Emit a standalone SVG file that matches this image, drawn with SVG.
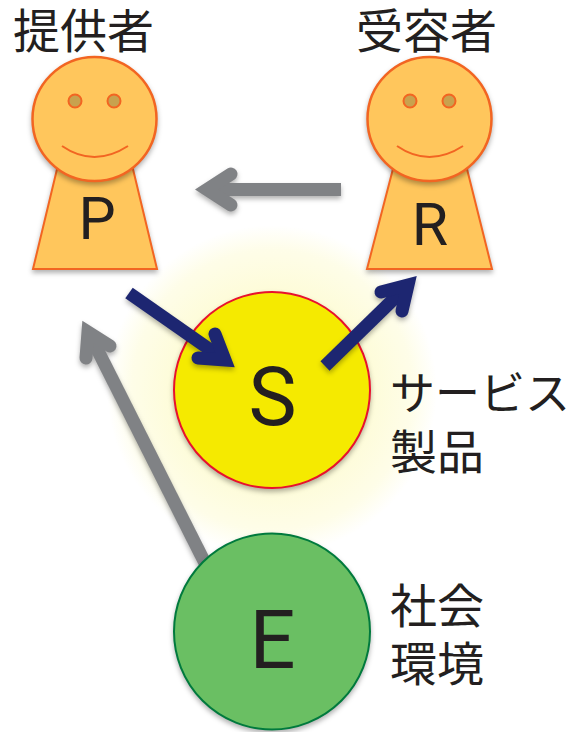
<svg xmlns="http://www.w3.org/2000/svg" width="572" height="732" viewBox="0 0 572 732">
<defs>
<radialGradient id="glow"><stop offset="0.6" stop-color="#f5ea00" stop-opacity="0.15"/><stop offset="0.85" stop-color="#f5ea00" stop-opacity="0.09"/><stop offset="1" stop-color="#f5ea00" stop-opacity="0"/></radialGradient>
<filter id="sh" filterUnits="userSpaceOnUse" x="0" y="0" width="572" height="732" color-interpolation-filters="sRGB"><feDropShadow dx="0" dy="3" stdDeviation="2.500" flood-color="#000" flood-opacity="0.3"/></filter>
</defs>
<style>
.t{font-family:"Noto Sans CJK JP","Liberation Sans",sans-serif;font-size:47px;fill:#231f20}
.k{font-size:45px}
.l{font-family:Roboto,"Liberation Sans",sans-serif;fill:#231f20;text-anchor:middle}
.body{fill:#ffc65c;stroke:#f26522;stroke-width:2;filter:url(#sh)}
.head{fill:#ffc65c;stroke:#f26522;stroke-width:2.500;filter:url(#sh)}
.eye{fill:#c8a24e;stroke:#f26522;stroke-width:2}
.smile{fill:none;stroke:#f26522;stroke-width:2}
.nv,.gr{filter:url(#sh)}
.nv path,.gr path{stroke-width:13;fill:none;stroke-linejoin:miter;stroke-miterlimit:10}
.nv path{stroke:#1d2671}
.gr path{stroke:#808285}
.b{stroke-linecap:round}
</style>
<g id="glow-s"><circle cx="272" cy="390" r="165" fill="url(#glow)"/></g>
<g id="node-p">
<path class="body" d="M58 165L33 269H157L132 165Z"/>
<circle class="head" cx="94.500" cy="119" r="62"/>
<circle class="eye" cx="75" cy="101" r="6.500"/><circle class="eye" cx="114" cy="101" r="6.500"/>
<path class="smile" d="M62 146Q94 168 128 146"/>
<text class="l" x="97" y="239" font-size="59">P</text>
<text class="t" x="13" y="48">提供者</text>
</g>
<g id="node-r">
<path class="body" d="M394 165L367 269H492L466 165Z"/>
<circle class="head" cx="429.500" cy="119" r="62"/>
<circle class="eye" cx="410" cy="101" r="6.500"/><circle class="eye" cx="449" cy="101" r="6.500"/>
<path class="smile" d="M397 146Q429 168 463 146"/>
<text class="l" x="430" y="245" font-size="59">R</text>
<text class="t" x="356" y="48">受容者</text>
</g>
<g id="node-s">
<circle cx="272" cy="390" r="98" fill="#f5ea00" stroke="#e8112d" stroke-width="2" filter="url(#sh)"/>
<text class="l" x="272.500" y="425" font-size="81">S</text>
<text class="t k" x="390" y="410">サービス</text>
<text class="t" x="390" y="469">製品</text>
</g>
<g id="connectors">
<g class="nv"><path d="M129 293L222 358"/><path class="b" d="M215 334L225 360L198 358"/></g>
<g class="nv"><path d="M325 366L404 289"/><path class="b" d="M381 292L408 285L402 311"/></g>
<g class="gr"><path d="M341 189.500H210"/><path class="b" d="M231 174L207 189.500L231 205"/></g>
<g class="gr"><path d="M205 563L91 337"/><path class="b" d="M110 346L88 332L86 358"/></g>
</g>
<g id="node-e">
<circle cx="272" cy="631.500" r="98" fill="#6abf63" stroke="#007a3d" stroke-width="2" filter="url(#sh)"/>
<text class="l" x="272.500" y="668" font-size="81">E</text>
<text class="t" x="390" y="623">社会</text>
<text class="t" x="390" y="681">環境</text>
</g>
</svg>
